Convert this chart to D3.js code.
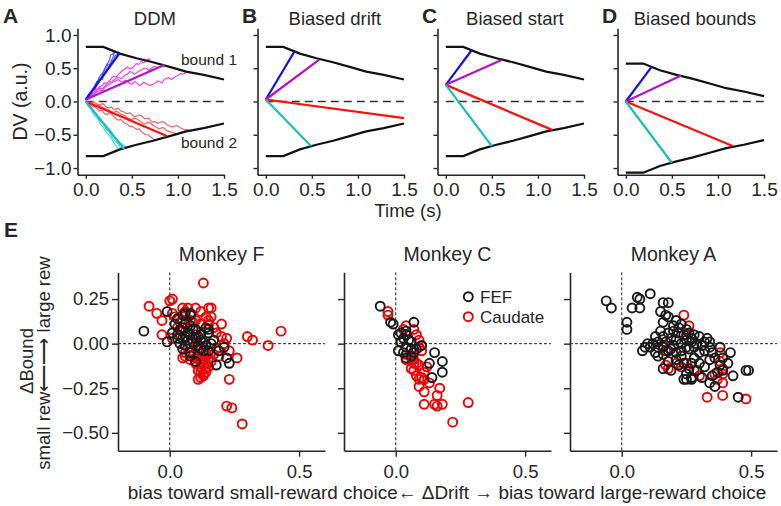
<!DOCTYPE html>
<html><head><meta charset="utf-8">
<script src="https://cdn.jsdelivr.net/npm/d3@7"></script>
<style>
body{margin:0;background:#fff}
text{font-family:"Liberation Sans",Arial,Helvetica,sans-serif;fill:#262626}
</style>
</head><body>
<svg id="c" width="781" height="506"></svg>
<script>
// ---------------- DATA ----------------
const timeTicks = [0, 0.5, 1.0, 1.5];
const dvTicks = [-1, -0.5, 0, 0.5, 1];
const topTitles = ["DDM", "Biased drift", "Biased start", "Biased bounds"];
const topLetters = ["A", "B", "C", "D"];

// collapsing bounds (time, value)
const boundT   = [0, 0.19, 0.37, 0.55, 0.73, 0.91, 1.09, 1.28, 1.5];
const boundUp  = [0.82, 0.82, 0.72, 0.65, 0.59, 0.52, 0.45, 0.40, 0.33];
const boundLow = [-0.82, -0.82, -0.72, -0.65, -0.59, -0.52, -0.45, -0.40, -0.33];
const boundUpD  = [0.57, 0.57, 0.47, 0.40, 0.34, 0.27, 0.20, 0.15, 0.08];
const boundLowD = [-1.07, -1.07, -0.97, -0.90, -0.84, -0.77, -0.70, -0.65, -0.58];

// mean drift lines: start value at t=0, end time, end value  (blue, purple, red, cyan)
const startA = [0.03, 0.03, 0.0, 0.0],  endTA = [0.37, 0.85, 0.88, 0.42], endVA = [0.73, 0.55, -0.52, -0.72];
const startB = [0.03, 0.03, 0.03, 0.03], endTB = [0.31, 0.58, 1.5, 0.49], endVB = [0.75, 0.63, -0.25, -0.67];
const startC = [0.25, 0.25, 0.25, 0.25], endTC = [0.28, 0.60, 1.16, 0.50], endVC = [0.77, 0.62, -0.43, -0.67];
const startD = [0.0, 0.0, 0.0, 0.0],     endTD = [0.28, 0.60, 1.16, 0.50], endVD = [0.52, 0.39, -0.67, -0.92];

// single-trial traces in panel A  [time, DV]
const tracesBlue = [
  [[0,0.03],[0.02,0.08],[0.04,0.11],[0.06,0.09],[0.08,0.2],[0.1,0.18],[0.12,0.24],[0.14,0.3],[0.16,0.35],[0.18,0.33],[0.2,0.43],[0.22,0.46],[0.24,0.5],[0.26,0.55],[0.28,0.6],[0.3,0.62],[0.32,0.69],[0.34,0.7],[0.36,0.75]],
  [[0,0.03],[0.02,0.06],[0.04,0.12],[0.06,0.15],[0.08,0.17],[0.1,0.25],[0.12,0.3],[0.14,0.28],[0.16,0.33],[0.18,0.4],[0.2,0.46],[0.22,0.5],[0.24,0.56],[0.26,0.55],[0.28,0.62],[0.3,0.68],[0.31,0.74]],
  [[0,0.03],[0.02,0.05],[0.04,0.08],[0.06,0.14],[0.08,0.19],[0.1,0.22],[0.12,0.28],[0.14,0.34],[0.16,0.4],[0.18,0.42],[0.2,0.48],[0.22,0.54],[0.24,0.58],[0.26,0.64],[0.27,0.7],[0.29,0.71],[0.3,0.73],[0.33,0.76]]
];
const tracesMagenta = [
  [[0,0.03],[0.03,0.07],[0.05,0.1],[0.08,0.12],[0.1,0.16],[0.13,0.2],[0.15,0.22],[0.18,0.24],[0.2,0.28],[0.23,0.27],[0.25,0.3],[0.28,0.35],[0.3,0.38],[0.33,0.37],[0.35,0.4],[0.38,0.44],[0.4,0.47],[0.43,0.49],[0.45,0.52],[0.48,0.49],[0.5,0.5],[0.53,0.54],[0.55,0.57],[0.58,0.56],[0.6,0.6],[0.63,0.58],[0.65,0.61],[0.68,0.64],[0.7,0.63]],
  [[0,0.03],[0.03,0.05],[0.05,0.09],[0.08,0.1],[0.1,0.13],[0.13,0.18],[0.15,0.2],[0.18,0.19],[0.2,0.22],[0.23,0.27],[0.25,0.3],[0.28,0.29],[0.3,0.32],[0.33,0.35],[0.35,0.37],[0.38,0.34],[0.4,0.36],[0.43,0.4],[0.45,0.41],[0.48,0.45],[0.5,0.44],[0.53,0.41],[0.55,0.43],[0.58,0.46],[0.6,0.47],[0.63,0.5],[0.65,0.5],[0.68,0.47],[0.7,0.49],[0.73,0.52],[0.75,0.53],[0.78,0.5],[0.8,0.52],[0.83,0.54],[0.85,0.55]],
  [[0,0.03],[0.03,0.04],[0.05,0.07],[0.08,0.1],[0.1,0.12],[0.13,0.15],[0.15,0.17],[0.18,0.16],[0.2,0.2],[0.23,0.24],[0.25,0.25],[0.28,0.28],[0.3,0.3],[0.33,0.31],[0.35,0.33],[0.38,0.3],[0.4,0.29],[0.43,0.32],[0.45,0.31],[0.48,0.27],[0.5,0.26],[0.53,0.3],[0.55,0.28],[0.58,0.24],[0.6,0.25],[0.63,0.29],[0.65,0.27],[0.68,0.25],[0.7,0.24],[0.73,0.26],[0.75,0.27],[0.78,0.31],[0.8,0.3],[0.83,0.28],[0.85,0.33],[0.88,0.35],[0.9,0.36],[0.93,0.33],[0.95,0.35],[0.98,0.38],[1.0,0.39],[1.03,0.42],[1.05,0.41],[1.08,0.43],[1.1,0.44]]
];
const tracesRed = [
  [[0,0.02],[0.03,-0.03],[0.05,-0.06],[0.08,-0.05],[0.1,-0.08],[0.13,-0.12],[0.15,-0.14],[0.18,-0.13],[0.2,-0.18],[0.23,-0.2],[0.25,-0.16],[0.28,-0.19],[0.3,-0.22],[0.33,-0.26],[0.35,-0.28],[0.38,-0.27],[0.4,-0.3],[0.43,-0.33],[0.45,-0.34],[0.48,-0.38],[0.5,-0.37],[0.53,-0.4],[0.55,-0.42],[0.58,-0.41],[0.6,-0.45],[0.63,-0.48],[0.65,-0.5],[0.68,-0.5],[0.7,-0.53],[0.73,-0.56],[0.75,-0.58]],
  [[0,0.02],[0.03,-0.01],[0.05,-0.03],[0.08,0.0],[0.1,-0.02],[0.13,-0.05],[0.15,-0.06],[0.18,-0.03],[0.2,-0.05],[0.23,-0.09],[0.25,-0.1],[0.28,-0.08],[0.3,-0.12],[0.33,-0.11],[0.35,-0.1],[0.38,-0.14],[0.4,-0.15],[0.43,-0.17],[0.45,-0.18],[0.48,-0.17],[0.5,-0.2],[0.53,-0.23],[0.55,-0.22],[0.58,-0.2],[0.6,-0.21],[0.63,-0.25],[0.65,-0.26],[0.68,-0.25],[0.7,-0.28],[0.73,-0.31],[0.75,-0.3],[0.78,-0.33],[0.8,-0.32],[0.83,-0.3],[0.85,-0.31],[0.88,-0.35],[0.9,-0.36],[0.93,-0.38],[0.95,-0.38],[0.98,-0.36],[1.0,-0.37],[1.03,-0.4],[1.05,-0.41],[1.08,-0.43],[1.1,-0.42],[1.13,-0.44],[1.15,-0.45]],
  [[0,0.02],[0.03,-0.02],[0.05,-0.04],[0.08,-0.08],[0.1,-0.07],[0.13,-0.04],[0.15,-0.05],[0.18,-0.09],[0.2,-0.1],[0.23,-0.12],[0.25,-0.13],[0.28,-0.15],[0.3,-0.17],[0.33,-0.14],[0.35,-0.16],[0.38,-0.19],[0.4,-0.2],[0.43,-0.22],[0.45,-0.24],[0.48,-0.27],[0.5,-0.27],[0.53,-0.25],[0.55,-0.26],[0.58,-0.29],[0.6,-0.3],[0.63,-0.34],[0.65,-0.33],[0.68,-0.31],[0.7,-0.32],[0.73,-0.36],[0.75,-0.37],[0.78,-0.4],[0.8,-0.41],[0.83,-0.39],[0.85,-0.4],[0.88,-0.44],[0.9,-0.45],[0.93,-0.46],[0.95,-0.47],[0.98,-0.49],[1.0,-0.5]]
];
const tracesCyan = [
  [[0,0.02],[0.02,-0.04],[0.04,-0.07],[0.06,-0.1],[0.08,-0.15],[0.1,-0.16],[0.12,-0.2],[0.14,-0.26],[0.16,-0.3],[0.18,-0.31],[0.2,-0.36],[0.22,-0.42],[0.24,-0.44],[0.26,-0.47],[0.28,-0.52],[0.3,-0.57],[0.32,-0.6],[0.34,-0.62],[0.36,-0.66],[0.38,-0.7],[0.4,-0.73]],
  [[0,0.02],[0.02,-0.02],[0.04,-0.05],[0.06,-0.1],[0.08,-0.12],[0.1,-0.18],[0.12,-0.22],[0.14,-0.23],[0.16,-0.27],[0.18,-0.31],[0.2,-0.33],[0.22,-0.38],[0.24,-0.4],[0.26,-0.42],[0.28,-0.46],[0.3,-0.52],[0.32,-0.55],[0.34,-0.56],[0.36,-0.6],[0.38,-0.63],[0.4,-0.64],[0.42,-0.67],[0.44,-0.7],[0.46,-0.68],[0.48,-0.69]],
  [[0,0.02],[0.02,-0.05],[0.04,-0.09],[0.06,-0.12],[0.08,-0.18],[0.1,-0.22],[0.12,-0.24],[0.14,-0.29],[0.16,-0.34],[0.18,-0.37],[0.2,-0.41],[0.22,-0.46],[0.24,-0.49],[0.26,-0.52],[0.28,-0.56],[0.3,-0.61],[0.32,-0.65],[0.34,-0.69],[0.35,-0.74]]
];

// Panel E scatter: [ΔDrift, ΔBound]
const monkeys = ["Monkey F", "Monkey C", "Monkey A"];
const driftTicks = [0, 0.5];
const boundTicks = [-0.5, -0.25, 0, 0.25];

const fefF = [[-0.10,0.07],[-0.01,0.18],[-0.01,0.01],[0.02,0.11],[0.03,0.14],[0.05,0.16],[0.06,0.17],[0.08,0.17],[0.08,0.16],[0.04,0.08],[0.05,0.09],[0.06,0.11],[0.08,0.10],[0.09,0.08],[0.10,0.08],[0.03,0.05],[0.05,0.03],[0.06,0.04],[0.07,0.06],[0.08,0.05],[0.10,0.03],[0.12,0.02],[0.13,0.01],[0.14,-0.01],[0.14,0.09],[0.15,0.08],[0.15,0.06],[0.12,0.05],[0.04,0.00],[0.05,-0.03],[0.06,-0.01],[0.08,-0.05],[0.10,-0.10],[0.08,-0.07],[0.15,-0.04],[0.17,0.02],[0.19,-0.04],[0.21,-0.02],[0.22,-0.08],[0.23,-0.11],[0.18,-0.12],[0.13,-0.04],[0.11,-0.01],[0.16,0.00],[0.01,0.06],[0.03,0.03],[0.07,0.02],[0.09,0.01],[0.11,0.04],[0.12,-0.03]];
const caudF = [[0.13,0.34],[0.01,0.25],[0.00,0.24],[-0.08,0.21],[-0.05,0.17],[-0.03,0.13],[-0.03,0.05],[0.01,0.03],[0.01,0.17],[0.05,0.20],[0.07,0.20],[0.06,0.18],[0.12,0.18],[0.15,0.20],[0.16,0.20],[0.14,0.15],[0.16,0.15],[0.10,0.20],[0.30,0.04],[0.32,0.02],[0.38,-0.01],[0.43,0.07],[0.26,-0.08],[0.23,-0.20],[0.22,-0.35],[0.24,-0.36],[0.28,-0.45],[0.11,-0.20],[0.13,-0.18],[0.12,-0.16],[0.14,-0.14],[0.13,-0.12],[0.14,-0.11],[0.12,-0.13],[0.06,-0.07],[0.06,-0.05],[0.08,-0.09],[0.05,-0.08],[0.15,-0.08],[0.17,-0.06],[0.19,-0.07],[0.21,0.00],[0.22,0.03],[0.20,0.04],[0.18,0.06],[0.17,0.09],[0.15,0.11],[0.15,0.13],[0.23,-0.04],[0.10,-0.08],[0.12,-0.09],[0.03,0.09],[0.05,0.07],[0.09,0.12],[0.10,0.13],[0.12,0.11],[0.07,0.02],[0.08,0.00],[0.10,-0.02],[0.11,-0.04],[0.12,-0.02],[0.14,-0.05],[0.14,-0.07],[0.11,-0.15],[0.13,-0.17],[0.12,-0.19],[0.14,-0.16],[0.10,-0.11],[0.16,-0.10],[0.15,-0.13],[0.09,-0.06],[0.18,-0.03],[0.20,0.11],[0.08,0.13],[0.04,0.12],[0.02,0.15],[0.12,-0.11],[0.10,0.05]];

const fefC = [[-0.06,0.21],[-0.02,0.12],[-0.01,0.11],[0.07,0.12],[0.01,0.05],[0.02,0.06],[0.04,0.07],[0.04,0.05],[0.03,0.03],[0.05,0.02],[0.02,0.01],[0.01,-0.04],[0.03,-0.05],[0.04,-0.02],[0.06,-0.03],[0.07,-0.05],[0.08,-0.03],[0.10,-0.01],[0.06,0.01],[0.15,-0.05],[0.18,-0.10],[0.13,-0.11],[0.18,-0.16],[0.14,-0.19],[0.04,-0.08],[0.06,-0.07]];
const caudC = [[-0.03,0.18],[-0.03,0.16],[0.04,0.10],[0.03,0.08],[0.07,0.08],[0.08,0.05],[0.09,0.02],[0.09,-0.02],[0.10,-0.04],[0.02,0.01],[0.06,-0.08],[0.04,-0.09],[0.06,-0.14],[0.07,-0.15],[0.08,-0.18],[0.09,-0.20],[0.10,-0.19],[0.11,-0.20],[0.09,-0.24],[0.11,-0.27],[0.13,-0.22],[0.11,-0.16],[0.12,-0.13],[0.09,-0.12],[0.08,-0.11],[0.07,-0.11],[0.17,-0.25],[0.16,-0.29],[0.15,-0.34],[0.16,-0.35],[0.18,-0.34],[0.11,-0.34],[0.22,-0.44],[0.28,-0.33],[0.04,-0.06],[0.07,-0.09]];

const fefA = [[-0.06,0.24],[-0.04,0.20],[0.02,0.12],[0.02,0.08],[0.06,0.26],[0.07,0.25],[0.04,0.20],[0.07,0.20],[0.11,0.28],[0.16,0.23],[0.18,0.23],[0.15,0.18],[0.17,0.16],[0.16,0.12],[0.18,0.15],[0.21,0.13],[0.20,0.10],[0.23,0.11],[0.25,0.08],[0.22,0.06],[0.15,0.07],[0.16,0.04],[0.14,0.01],[0.12,0.00],[0.08,-0.04],[0.11,-0.02],[0.13,-0.05],[0.16,-0.06],[0.14,-0.07],[0.18,0.06],[0.19,0.03],[0.21,0.02],[0.23,0.00],[0.25,-0.02],[0.27,0.03],[0.28,0.05],[0.30,0.04],[0.32,0.01],[0.33,0.03],[0.34,0.01],[0.34,-0.02],[0.32,-0.04],[0.30,-0.05],[0.28,-0.08],[0.27,-0.11],[0.26,-0.14],[0.25,-0.17],[0.24,-0.20],[0.27,-0.19],[0.27,-0.20],[0.25,-0.20],[0.16,-0.14],[0.18,-0.10],[0.19,-0.15],[0.21,-0.09],[0.23,-0.07],[0.21,-0.05],[0.19,-0.03],[0.18,-0.04],[0.16,-0.02],[0.14,-0.02],[0.35,-0.05],[0.36,-0.08],[0.38,-0.12],[0.39,-0.15],[0.42,-0.05],[0.41,-0.11],[0.43,-0.18],[0.35,-0.18],[0.34,-0.22],[0.36,-0.24],[0.48,-0.15],[0.49,-0.15],[0.45,-0.30],[0.26,-0.03],[0.28,-0.02],[0.27,0.01],[0.25,0.02],[0.23,-0.04],[0.34,-0.09],[0.32,-0.13],[0.30,-0.11],[0.29,-0.15],[0.31,-0.19],[0.20,0.07],[0.22,0.09],[0.24,0.05],[0.26,0.06],[0.29,0.00],[0.31,-0.01],[0.20,-0.01],[0.24,-0.11],[0.22,-0.12],[0.17,0.01],[0.13,0.04],[0.10,0.00],[0.09,-0.02],[0.38,-0.02],[0.39,-0.08],[0.37,-0.16]];
const caudA = [[0.24,0.16],[0.26,0.10],[0.25,0.05],[0.16,-0.01],[0.17,-0.04],[0.17,-0.12],[0.18,-0.14],[0.23,-0.13],[0.25,-0.11],[0.30,-0.18],[0.28,-0.15],[0.38,-0.05],[0.38,-0.10],[0.39,-0.14],[0.39,-0.17],[0.39,-0.22],[0.33,-0.30],[0.39,-0.29],[0.48,-0.31],[0.36,-0.17],[0.37,-0.20],[0.21,-0.11]];

// ---------------- DRAW ----------------
const svg = d3.select("#c");
const INK = "#262626";
const condColor = ["#1414e6", "#b014c8", "#ff1010", "#1cbcbc"];
const traceColor = ["#5c5cf2", "#f040f0", "#f46262", "#40dada"];

function styleAxis(g, fs) {
  g.select(".domain").attr("stroke", INK).attr("stroke-width", 1.6);
  g.selectAll(".tick line").attr("stroke", INK).attr("stroke-width", 1.4);
  g.selectAll(".tick text").attr("fill", INK).style("font-size", fs + "px")
    .style("font-family", '"Liberation Sans",Arial,sans-serif');
}

const topLeft = [77.5, 257.5, 437.5, 617.5];
const letterX = [3, 242, 422, 602];
const starts = [startA, startB, startC, startD];
const endTs = [endTA, endTB, endTC, endTD];
const endVs = [endVA, endVB, endVC, endVD];

topLeft.forEach((L, i) => {
  const x = d3.scaleLinear([-0.09, 1.5], [L, L + 146.5]);
  const y = d3.scaleLinear([-1.1, 1.1], [174.7, 28.3]);
  const g = svg.append("g");

  const gx = g.append("g").attr("transform", "translate(0,174.7)")
    .call(d3.axisBottom(x).tickValues(timeTicks).tickFormat(d3.format(".1f"))
      .tickSize(4).tickSizeOuter(0).tickPadding(4));
  styleAxis(gx, 19);
  const gy = g.append("g").attr("transform", `translate(${L},0)`)
    .call(d3.axisLeft(y).tickValues(dvTicks).tickFormat(i === 0 ? d3.format(".1f") : () => "")
      .tickSize(4).tickSizeOuter(0).tickPadding(2));
  styleAxis(gy, 19);

  // zero line
  g.append("line").attr("x1", x(0)).attr("x2", x(1.5)).attr("y1", y(0)).attr("y2", y(0))
    .attr("stroke", "#333").attr("stroke-width", 1.3).attr("stroke-dasharray", "8,5");

  const line = d3.line().x(d => x(d[0])).y(d => y(d[1]));

  if (i === 0) {
    [tracesBlue, tracesMagenta, tracesRed, tracesCyan].forEach((set, k) => {
      set.forEach(tr => g.append("path").attr("d", line(tr)).attr("fill", "none")
        .attr("stroke", traceColor[k]).attr("stroke-width", 1.2).attr("stroke-linejoin", "round"));
    });
  }

  const up = i === 3 ? boundUpD : boundUp;
  const lo = i === 3 ? boundLowD : boundLow;
  [up, lo].forEach(b => g.append("path").attr("d", line(boundT.map((t, j) => [t, b[j]])))
    .attr("fill", "none").attr("stroke", "#111").attr("stroke-width", 2.2));

  starts[i].forEach((s, k) => {
    g.append("path").attr("d", line([[0, s], [endTs[i][k], endVs[i][k]]]))
      .attr("fill", "none").attr("stroke", condColor[k]).attr("stroke-width", 2.2);
  });

  g.append("text").attr("x", x(0.75)).attr("y", 25).attr("text-anchor", "middle")
    .style("font-size", "18.5px").text(topTitles[i]);
  g.append("text").attr("x", letterX[i]).attr("y", 23).style("font-size", "21px")
    .style("font-weight", "bold").attr("fill", "#111").text(topLetters[i]);

  if (i === 0) {
    g.append("text").attr("x", 181).attr("y", 65).style("font-size", "15.5px").text("bound 1");
    g.append("text").attr("x", 181).attr("y", 148).style("font-size", "15.5px").text("bound 2");
    g.append("text").attr("transform", "translate(27,101.5) rotate(-90)")
      .attr("text-anchor", "middle").style("font-size", "19.5px").text("DV (a.u.)");
  }
});

svg.append("text").attr("x", 408).attr("y", 217).attr("text-anchor", "middle")
  .style("font-size", "18.5px").text("Time (s)");

// Panel E
svg.append("text").attr("x", 4).attr("y", 237).style("font-size", "21px")
  .style("font-weight", "bold").attr("fill", "#111").text("E");

const botLeft = [118, 344, 570];
const fefSets = [fefF, fefC, fefA];
const caudSets = [caudF, caudC, caudA];

botLeft.forEach((L, i) => {
  const x = d3.scaleLinear([-0.2, 0.6], [L, L + 207]);
  const y = d3.scaleLinear([-0.6, 0.4], [450.7, 272.3]);
  const g = svg.append("g");

  const gx = g.append("g").attr("transform", "translate(0,450.7)")
    .call(d3.axisBottom(x).tickValues(driftTicks).tickFormat(d3.format(".1f"))
      .tickSize(6).tickSizeOuter(0).tickPadding(8));
  styleAxis(gx, 18.5);
  const gy = g.append("g").attr("transform", `translate(${L},0)`)
    .call(d3.axisLeft(y).tickValues(boundTicks).tickFormat(i === 0 ? d3.format(".2f") : () => "")
      .tickSize(6).tickSizeOuter(0).tickPadding(3));
  styleAxis(gy, 18.5);

  g.append("line").attr("x1", x(0)).attr("x2", x(0)).attr("y1", y(0.4)).attr("y2", y(-0.6))
    .attr("stroke", "#222").attr("stroke-width", 1).attr("stroke-dasharray", "3,2");
  g.append("line").attr("x1", x(-0.2)).attr("x2", x(0.6)).attr("y1", y(0)).attr("y2", y(0))
    .attr("stroke", "#222").attr("stroke-width", 1).attr("stroke-dasharray", "3,2");

  g.selectAll("circle.c").data(caudSets[i]).join("circle").attr("class", "c")
    .attr("cx", d => x(d[0])).attr("cy", d => y(d[1])).attr("r", 4.5)
    .attr("fill", "none").attr("stroke", "#f00000").attr("stroke-width", 1.9);
  g.selectAll("circle.f").data(fefSets[i]).join("circle").attr("class", "f")
    .attr("cx", d => x(d[0])).attr("cy", d => y(d[1])).attr("r", 4.5)
    .attr("fill", "none").attr("stroke", "#1a1a1a").attr("stroke-width", 1.9);

  g.append("text").attr("x", x(0.2)).attr("y", 260.5).attr("text-anchor", "middle")
    .style("font-size", "19.5px").text(monkeys[i]);
});

// legend
const leg = svg.append("g");
[["FEF", "#1a1a1a"], ["Caudate", "#f00000"]].forEach((d, k) => {
  leg.append("circle").attr("cx", 468.3).attr("cy", 296.7 + k * 20).attr("r", 4.5)
    .attr("fill", "none").attr("stroke", d[1]).attr("stroke-width", 1.9);
  leg.append("text").attr("x", 480).attr("y", 302.5 + k * 20).style("font-size", "17px").text(d[0]);
});

svg.append("text").attr("x", 447).attr("y", 499).attr("text-anchor", "middle")
  .style("font-size", "18.9px")
  .text("bias toward small-reward choice\u2190 \u0394Drift \u2192 bias toward large-reward choice");
svg.append("text").attr("transform", "translate(33,361) rotate(-90)").attr("text-anchor", "middle")
  .style("font-size", "18.5px").text("\u0394Bound");
svg.append("text").attr("transform", "translate(50,363) rotate(-90)").attr("text-anchor", "middle")
  .style("font-size", "18.5px").text("small rew\u27F5\u27F6 large rew");
</script>
</body></html>
